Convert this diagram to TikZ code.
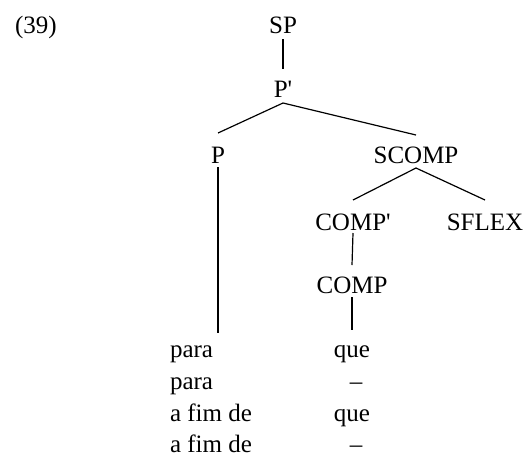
\documentclass[tikz,border=0pt]{standalone}
\usepackage{fontspec}
\setmainfont{Liberation Serif}
\begin{document}
\begin{tikzpicture}[x=1pt,y=-1pt,
  every node/.style={inner sep=0pt, outer sep=0pt, font=\fontsize{25}{29}\selectfont},
  lab/.style={anchor=base},
  word/.style={anchor=base west},
  edge/.style={line width=1.2pt}]
\useasboundingbox (0,0) rectangle (526,456);
\node[word] (num) at (15,33) {(39)};
\node[lab] (sp) at (283,33) {SP};
\node[lab] (pp) at (283,97) {P\textquotesingle};
\node[lab] (p) at (218,163) {P};
\node[lab] (scomp) at (416,163) {SCOMP};
\node[lab] (compp) at (353,230) {COMP\textquotesingle};
\node[lab] (sflex) at (485,230) {SFLEX};
\node[lab] (comp) at (352,293) {COMP};
\node[word] (w1) at (170,357) {para};
\node[word] (w2) at (170,389) {para};
\node[word] (w3) at (170,421) {a fim de};
\node[word] (w4) at (170,452) {a fim de};
\node[lab] (q1) at (352,357) {que};
\node[lab] (q2) at (356,389) {–};
\node[lab] (q3) at (352,421) {que};
\node[lab] (q4) at (356,452) {–};
\draw[edge] ([yshift=-6pt]sp.base) -- ([yshift=28pt]pp.base);
\draw[edge] ([yshift=-6pt]pp.base) -- ([yshift=30pt]p.base);
\draw[edge] ([yshift=-6pt]pp.base) -- ([yshift=28pt]scomp.base);
\draw[edge] ([yshift=-4pt]p.base) -- ([yshift=24pt]w1.base -| p.base);
\draw[edge] ([yshift=-5pt]scomp.base) -- ([yshift=30pt]compp.base);
\draw[edge] ([yshift=-5pt]scomp.base) -- ([yshift=30pt]sflex.base);
\draw[edge] ([yshift=-3pt]compp.base) -- ([yshift=28pt]comp.base);
\draw[edge] ([yshift=-4pt]comp.base) -- ([yshift=27pt]q1.base);
\end{tikzpicture}
\end{document}
